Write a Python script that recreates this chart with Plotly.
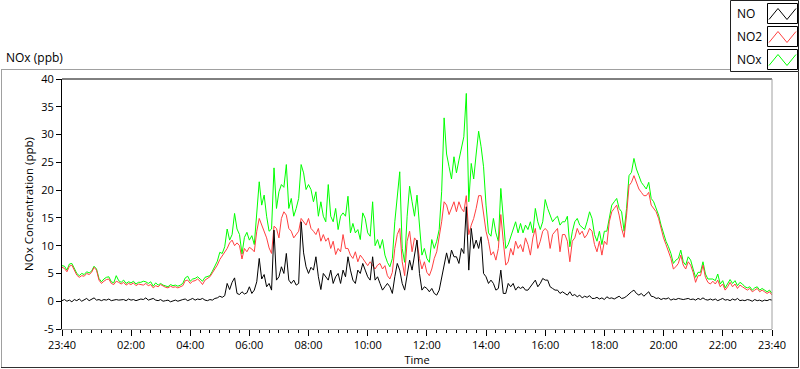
import pandas as pd
import plotly.graph_objects as go

# ---------------- data (5-minute samples, 23:40 -> 23:40 next day) ----------------
no2 = [
    6.1, 5.9, 5.3, 6.3, 6.5, 5.6, 4.7, 4.3, 4.6, 4.5, 5.0, 4.8,
    5.2, 6.1, 5.6, 3.8, 3.2, 3.6, 3.9, 4.0, 3.2, 3.0, 3.6, 3.4,
    3.1, 3.4, 2.9, 3.2, 3.0, 3.3, 2.8, 3.1, 3.0, 2.9, 3.2, 2.8,
    3.0, 2.4, 2.8, 2.6, 3.0, 2.7, 2.5, 2.4, 2.7, 2.5, 2.6, 2.4,
    2.6, 2.8, 3.7, 3.8, 3.2, 3.6, 3.7, 4.0, 3.6, 3.0, 3.8, 4.1,
    4.4, 5.1, 5.8, 6.5, 7.5, 8.1, 8.9, 9.5, 10.5, 11.0, 10.0, 10.5,
    10.0, 7.6, 9.5, 8.9, 9.7, 9.4, 8.9, 12.6, 14.9, 13.7, 12.6, 11.4,
    9.6, 8.6, 13.5, 13.1, 11.4, 14.9, 16.1, 15.5, 13.1, 12.6, 11.4, 12.0,
    12.6, 14.9, 14.3, 13.7, 14.9, 13.1, 12.6, 12.0, 13.1, 10.8, 12.0, 10.8,
    11.4, 9.5, 10.8, 8.4, 9.5, 8.9, 12.0, 9.5, 9.5, 8.3, 7.7, 8.9,
    7.1, 8.3, 7.7, 7.1, 6.4, 7.1, 6.5, 5.8, 6.5, 6.8, 5.8, 6.4,
    4.6, 4.0, 5.2, 9.5, 12.0, 13.1, 7.1, 4.6, 10.8, 12.6, 8.9, 11.4,
    10.8, 7.7, 5.8, 7.1, 5.2, 4.6, 5.8, 7.7, 8.9, 11.4, 14.3, 17.9,
    17.3, 15.6, 16.7, 17.9, 16.1, 17.9, 16.7, 16.1, 19.0, 12.0, 13.7, 14.9,
    16.7, 19.0, 19.0, 15.6, 12.6, 10.8, 8.3, 8.9, 7.4, 9.5, 15.6, 10.8,
    6.5, 7.1, 9.5, 8.3, 10.8, 9.5, 10.2, 8.9, 11.4, 10.2, 8.3, 11.4,
    13.1, 9.5, 10.8, 12.6, 13.1, 12.6, 9.5, 12.0, 12.6, 13.1, 8.9, 12.0,
    12.0, 10.8, 7.1, 10.8, 11.4, 13.1, 12.0, 12.6, 11.4, 12.0, 13.1, 12.6,
    10.2, 8.9, 10.8, 8.3, 10.8, 10.2, 14.3, 16.1, 16.7, 17.3, 15.5, 13.1,
    11.5, 15.5, 20.8, 21.4, 22.6, 21.4, 20.2, 19.6, 19.0, 19.0, 19.6, 17.3,
    16.7, 16.1, 14.9, 13.1, 11.4, 10.2, 8.9, 7.7, 5.8, 6.2, 6.8, 8.3,
    6.5, 5.8, 7.1, 6.5, 5.2, 3.4, 4.6, 4.6, 6.5, 4.3, 3.4, 3.1,
    3.6, 3.1, 3.8, 2.6, 3.1, 2.0, 2.6, 3.4, 2.6, 3.1, 2.3, 2.9,
    2.6, 2.3, 2.0, 2.3, 1.7, 2.0, 2.3, 1.7, 2.0, 1.7, 1.4, 1.7,
    1.1,
]

nox = [
    6.4, 6.3, 5.6, 6.7, 6.8, 5.9, 5.0, 4.6, 5.0, 4.8, 5.3, 5.1,
    5.4, 6.3, 5.8, 4.1, 3.5, 4.0, 4.3, 4.4, 3.5, 3.3, 4.6, 3.7,
    3.4, 3.8, 3.2, 3.5, 3.3, 3.6, 3.1, 3.4, 3.4, 3.6, 3.5, 3.2,
    3.5, 2.7, 3.3, 2.9, 3.2, 2.9, 2.7, 2.6, 3.0, 2.8, 2.9, 2.7,
    2.9, 3.2, 4.2, 4.5, 3.6, 4.0, 4.1, 4.4, 4.0, 3.6, 4.3, 4.5,
    4.6, 5.4, 6.3, 7.2, 8.8, 8.6, 9.8, 13.0, 11.0, 12.0, 15.8, 13.0,
    12.0, 8.5, 11.5, 12.4, 11.0, 11.8, 10.2, 15.3, 21.5, 17.3, 19.1, 15.3,
    12.6, 13.0, 24.0, 16.7, 19.7, 21.0, 20.5, 24.6, 16.7, 18.5, 15.3, 16.7,
    18.5, 24.6, 23.1, 20.1, 21.0, 20.1, 17.9, 19.7, 15.3, 17.9, 15.3, 14.3,
    21.0, 15.3, 14.3, 16.7, 12.9, 15.3, 15.9, 15.3, 18.9, 12.3, 14.0, 12.3,
    12.9, 11.1, 15.9, 14.9, 12.3, 11.7, 17.9, 10.0, 11.1, 9.5, 11.1, 8.3,
    7.0, 6.2, 7.7, 14.3, 19.1, 23.3, 9.5, 7.0, 15.3, 20.7, 17.9, 15.3,
    19.1, 13.9, 8.3, 9.5, 7.7, 7.0, 11.1, 9.5, 10.8, 12.9, 19.7, 33.0,
    26.5, 24.2, 22.0, 26.0, 23.1, 25.4, 27.8, 29.6, 37.4, 17.9, 24.8, 22.0,
    26.5, 30.6, 27.8, 24.2, 17.3, 12.3, 11.7, 14.9, 12.3, 10.8, 20.3, 14.3,
    9.5, 10.2, 11.7, 12.9, 14.3, 12.3, 14.0, 12.3, 13.7, 12.9, 14.3, 12.3,
    16.7, 14.3, 12.9, 14.3, 18.3, 16.7, 15.3, 14.3, 14.9, 15.3, 13.7, 14.3,
    14.3, 15.3, 9.8, 12.5, 14.3, 14.9, 13.7, 13.2, 12.9, 14.3, 16.1, 14.9,
    12.0, 10.8, 12.6, 10.2, 12.6, 12.6, 15.3, 17.3, 17.9, 18.5, 16.7, 16.1,
    12.6, 16.7, 22.6, 23.2, 25.7, 23.8, 22.6, 21.4, 20.8, 20.2, 21.4, 18.5,
    17.9, 16.7, 15.5, 13.7, 12.0, 10.8, 9.8, 8.6, 6.8, 7.4, 7.7, 9.2,
    7.1, 6.5, 8.0, 7.4, 5.8, 4.3, 5.2, 5.2, 7.1, 4.9, 4.0, 4.0,
    4.0, 3.7, 4.9, 3.1, 3.7, 2.4, 3.1, 3.9, 3.2, 3.7, 2.8, 3.4,
    3.1, 2.6, 2.4, 2.6, 2.0, 2.4, 2.6, 2.0, 2.3, 2.0, 1.7, 2.0,
    1.4,
]

no = [
    0.1, 0.3, 0.0, 0.2, -0.1, 0.3, 0.1, 0.4, 0.0, 0.2, 0.5, 0.1,
    0.4, 0.6, 0.2, 0.3, 0.1, 0.3, 0.2, 0.4, 0.1, 0.2, 0.3, 0.2,
    0.2, 0.3, 0.1, 0.4, 0.2, 0.3, 0.1, 0.2, 0.4, 0.3, 0.6, 0.2,
    0.3, 0.5, 0.2, 0.1, 0.3, 0.0, 0.1, 0.2, -0.1, 0.1, 0.2, 0.0,
    0.2, 0.3, 0.4, 0.1, 0.3, 0.5, 0.2, 0.4, 0.3, 0.5, 0.2, 0.1,
    0.3, 0.2, 0.5, 0.6, 0.9, 0.7, 1.0, 3.2, 2.1, 3.4, 4.2, 1.4,
    1.2, 1.7, 1.3, 1.5, 2.6, 1.4, 2.0, 3.5, 7.7, 4.0, 4.8, 2.6,
    3.2, 2.0, 12.8, 3.8, 4.4, 6.2, 5.0, 8.6, 3.8, 3.2, 3.8, 2.9,
    3.2, 14.3, 8.7, 6.2, 5.0, 6.1, 5.6, 8.0, 4.4, 2.1, 5.0, 4.4,
    3.8, 5.6, 3.2, 4.4, 5.0, 3.2, 5.6, 4.4, 8.0, 5.6, 3.8, 3.2,
    5.6, 5.0, 6.8, 5.6, 4.4, 3.8, 8.0, 3.8, 4.4, 3.2, 2.0, 2.6,
    3.2, 2.6, 1.4, 4.4, 6.8, 5.6, 3.2, 2.0, 5.0, 7.4, 5.6, 8.0,
    11.0, 5.0, 2.0, 2.6, 2.3, 1.7, 2.3, 1.4, 1.1, 2.0, 4.4, 6.5,
    8.7, 6.8, 9.2, 8.0, 8.0, 6.8, 9.5, 8.6, 17.0, 5.6, 13.1, 9.5,
    11.0, 9.5, 11.6, 5.0, 4.4, 3.2, 3.8, 3.2, 2.0, 2.3, 5.6, 1.4,
    1.4, 3.2, 2.6, 3.2, 2.0, 2.6, 2.3, 2.6, 2.0, 2.0, 2.6, 3.2,
    3.8, 2.6, 3.2, 4.1, 3.8, 3.8, 2.6, 2.3, 2.0, 2.0, 1.4, 1.7,
    1.4, 1.1, 1.7, 1.0, 1.2, 0.8, 1.1, 0.6, 0.9, 0.7, 1.0, 0.5,
    0.5, 0.7, 0.4, 0.6, 0.3, 0.8, 0.5, 0.6, 0.4, 0.7, 0.9, 0.5,
    0.6, 0.9, 1.4, 1.7, 2.0, 1.4, 1.1, 1.4, 0.9, 1.4, 1.7, 0.9,
    0.8, 0.5, 0.6, 0.3, 0.5, 0.4, 0.6, 0.2, 0.4, 0.3, 0.5, 0.4,
    0.3, 0.4, 0.5, 0.3, 0.4, 0.2, 0.5, 0.3, 0.6, 0.3, 0.2, 0.4,
    0.2, 0.4, 0.1, 0.3, 0.5, 0.2, 0.3, 0.1, 0.4, 0.2, 0.5, 0.1,
    0.2, 0.1, 0.3, 0.2, 0.0, 0.3, 0.1, 0.2, 0.0, 0.2, 0.1, 0.3,
    0.2,
]

start_time = "2000-01-01 23:40"
sample_minutes = 5
times = pd.date_range(start_time, periods=len(no2), freq=f"{sample_minutes}min")

tick_times = ["2000-01-01 23:40", "2000-01-02 02:00", "2000-01-02 04:00",
              "2000-01-02 06:00", "2000-01-02 08:00", "2000-01-02 10:00",
              "2000-01-02 12:00", "2000-01-02 14:00", "2000-01-02 16:00",
              "2000-01-02 18:00", "2000-01-02 20:00", "2000-01-02 22:00",
              "2000-01-02 23:40"]
tick_labels = ["23:40", "02:00", "04:00", "06:00", "08:00", "10:00", "12:00",
               "14:00", "16:00", "18:00", "20:00", "22:00", "23:40"]
y_ticks = [-5, 0, 5, 10, 15, 20, 25, 30, 35, 40]

series_names = ["NO", "NO2", "NOx"]
series_colors = ["#000000", "#ff4040", "#00ff00"]

# ---------------- figure ----------------
W, H = 800, 369
ML, MR, MT, MB = 62, 28, 79, 40
PW, PH = W - ML - MR, H - MT - MB
FONT = "Segoe UI, Open Sans, sans-serif"


def px_x(px):
    return (px - ML) / PW


def px_y(py):
    return (MT + PH - py) / PH


fig = go.Figure()
# draw order: NOx behind, NO2, then NO
for name, vals in (("NOx", nox), ("NO2", no2), ("NO", no)):
    color = series_colors[series_names.index(name)]
    fig.add_trace(go.Scatter(x=times, y=vals, mode="lines", name=name,
                             line=dict(color=color, width=1), showlegend=False))

fig.update_layout(
    width=W, height=H,
    margin=dict(l=ML, r=MR, t=MT, b=MB, pad=0),
    paper_bgcolor="white", plot_bgcolor="white",
    font=dict(family=FONT, size=11, color="#000000"),
    showlegend=False,
)

fig.update_xaxes(
    type="date",
    range=[times[0], times[-1]],
    tickmode="array", tickvals=tick_times, ticktext=tick_labels,
    ticks="outside", ticklen=6, tickcolor="#000000", tickwidth=1,
    minor=dict(ticks="outside", ticklen=3, tickcolor="#000000",
               dtick=20 * 60 * 1000, tick0=start_time, showgrid=False),
    showgrid=False, zeroline=False,
    showline=True, linecolor="#a0a0a0", linewidth=1,
    tickfont=dict(size=11),
    title=dict(text="Time", standoff=5, font=dict(size=11)),
    automargin=False,
)
fig.update_yaxes(
    range=[-5, 40],
    tickmode="array", tickvals=y_ticks, ticktext=[str(v) for v in y_ticks],
    ticks="outside", ticklen=5, tickcolor="#000000",
    showgrid=False, zeroline=False,
    showline=True, linecolor="#000000", linewidth=1,
    tickfont=dict(size=11),
    title=dict(text="NOx Concentration (ppb)", standoff=5, font=dict(size=11.5)),
    automargin=False,
)

shapes = []
# plot area top (black) and right (gray) borders
shapes.append(dict(type="line", xref="paper", yref="paper", x0=0, x1=1, y0=1, y1=1,
                   line=dict(color="#000000", width=1)))
shapes.append(dict(type="line", xref="paper", yref="paper", x0=1, x1=1, y0=0, y1=1,
                   line=dict(color="#a0a0a0", width=1)))
# outer frame
shapes.append(dict(type="line", xref="paper", yref="paper", x0=px_x(1), x1=px_x(730),
                   y0=px_y(69.5), y1=px_y(69.5), line=dict(color="#a0a0a0", width=1)))
shapes.append(dict(type="line", xref="paper", yref="paper", x0=px_x(1.5), x1=px_x(1.5),
                   y0=px_y(69.5), y1=px_y(367.5), line=dict(color="#a0a0a0", width=1)))
shapes.append(dict(type="line", xref="paper", yref="paper", x0=px_x(1), x1=px_x(798.5),
                   y0=px_y(367.5), y1=px_y(367.5), line=dict(color="#303030", width=1)))
shapes.append(dict(type="line", xref="paper", yref="paper", x0=px_x(798.5), x1=px_x(798.5),
                   y0=px_y(72), y1=px_y(367.5), line=dict(color="#303030", width=1)))
# legend frame
shapes.append(dict(type="rect", xref="paper", yref="paper", x0=px_x(730.5), x1=px_x(798.5),
                   y0=px_y(71.5), y1=px_y(0.5), line=dict(color="#202020", width=1),
                   fillcolor="white"))

annotations = [
    dict(text="NOx (ppb)", xref="paper", yref="paper", x=px_x(4), y=px_y(58),
         xanchor="left", yanchor="middle", showarrow=False, font=dict(size=12)),
]

box_tops = [3.5, 26.5, 49.5]
for name, color, top in zip(series_names, series_colors, box_tops):
    annotations.append(dict(text=name, xref="paper", yref="paper", x=px_x(735),
                            y=px_y(top + 10), xanchor="left", yanchor="middle",
                            showarrow=False, font=dict(size=12)))
    shapes.append(dict(type="rect", xref="paper", yref="paper",
                       x0=px_x(767.5), x1=px_x(797.5), y0=px_y(top + 20), y1=px_y(top),
                       line=dict(color="#000000", width=1), fillcolor="white"))
    zig = [(769, top + 16), (778, top + 5), (787, top + 16), (796, top + 5)]
    path = "M " + " L ".join(f"{px_x(a):.5f},{px_y(b):.5f}" for a, b in zig)
    shapes.append(dict(type="path", xref="paper", yref="paper", path=path,
                       line=dict(color=color, width=1)))

fig.update_layout(shapes=shapes, annotations=annotations)
fig.write_html("out.html",
               config={"displayModeBar": False},
               post_script="document.body.style.margin='0';"
                           "document.body.style.overflow='hidden';")
